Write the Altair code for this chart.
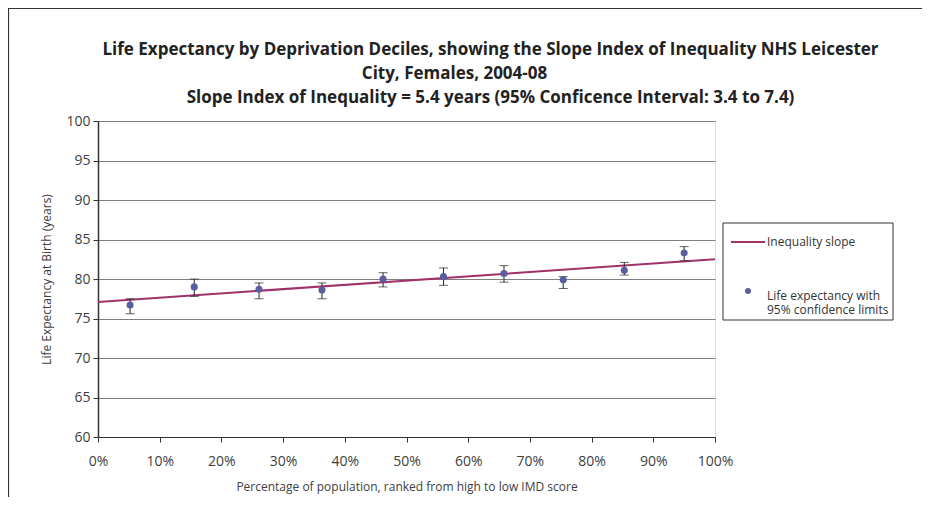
import altair as alt
import pandas as pd

# Data
pct = [5.2, 15.6, 26.1, 36.3, 46.2, 56.0, 65.8, 75.4, 85.3, 95.0]
life_exp = [76.7, 79.0, 78.7, 78.6, 80.0, 80.3, 80.7, 79.9, 81.1, 83.3]
lower = [75.6, 77.8, 77.5, 77.5, 79.0, 79.2, 79.6, 78.8, 80.5, 82.3]
upper = [77.5, 80.0, 79.5, 79.5, 80.8, 81.4, 81.7, 80.3, 82.1, 84.1]
slope_x = [0, 100]
slope_y = [77.1, 82.5]

LINE_LABEL = "Inequality slope"
PT_LABEL = "Life expectancy with 95% confidence limits"

FONT = "Open Sans"
LINE_COL = "#a0326a"
PT_COL = "#5b5e9e"

pts = pd.DataFrame({"x": pct, "y": life_exp, "lo": lower, "hi": upper,
                    "series": [PT_LABEL] * len(pct)})
slope = pd.DataFrame({"x": slope_x, "y": slope_y, "series": [LINE_LABEL] * 2})
one = pd.DataFrame({"a": [0]})

x_scale = alt.Scale(domain=[0, 100], nice=False, zero=False)
y_scale = alt.Scale(domain=[60, 100], nice=False, zero=False)

x_axis = alt.Axis(values=list(range(0, 101, 10)), labelExpr="datum.value + '%'",
                  title="Percentage of population, ranked from high to low IMD score",
                  grid=False, tickSize=5, labelPadding=12, titlePadding=13,
                  labelFontSize=14, titleFontSize=12, titleFontWeight="normal",
                  labelColor="#404040", titleColor="#404040", domainColor="#333333",
                  tickColor="#333333", labelFont=FONT, titleFont=FONT,
                  labelFlush=False, labelOverlap=False)
y_axis = alt.Axis(values=list(range(60, 101, 5)), title="Life Expectancy at Birth (years)",
                  grid=True, gridColor="#808080", gridWidth=1, tickSize=5,
                  labelPadding=3, titlePadding=12, labelFontSize=14, titleFontSize=12,
                  titleFontWeight="normal", labelColor="#404040", titleColor="#404040",
                  domainColor="#333333", domainWidth=1.5, tickColor="#333333",
                  labelFont=FONT, titleFont=FONT, labelOverlap=False)

X = lambda f: alt.X(f, scale=x_scale, axis=x_axis)
Y = lambda f: alt.Y(f, scale=y_scale, axis=y_axis)

frame = alt.Chart(one).mark_rect(fillOpacity=0, stroke="#333333", strokeWidth=1.2).encode(
    x=alt.value(-89.5), x2=alt.value(1200), y=alt.value(-112.5), y2=alt.value(1200))

legend_box = alt.Chart(one).mark_rect(fillOpacity=0, stroke="#333333", strokeWidth=1).encode(
    x=alt.value(625), x2=alt.value(795), y=alt.value(102), y2=alt.value(199))

line = alt.Chart(slope).mark_line(strokeWidth=2).encode(
    x=X("x:Q"),
    y=Y("y:Q"),
    stroke=alt.Stroke("series:N", scale=alt.Scale(domain=[LINE_LABEL], range=[LINE_COL]),
                      legend=alt.Legend(title=None, orient="none", legendX=632, legendY=103,
                                        symbolType="stroke", symbolSize=1156,
                                        symbolStrokeWidth=2, labelOffset=1, padding=0,
                                        labelFontSize=12, labelFont=FONT,
                                        labelColor="#333333")),
)

rules = alt.Chart(pts).mark_rule(color="#222222", strokeWidth=1).encode(
    x=X("x:Q"), y=Y("lo:Q"), y2="hi:Q")
cap_lo = alt.Chart(pts).mark_tick(color="#222222", thickness=1, size=9, orient="horizontal").encode(
    x=X("x:Q"), y=Y("lo:Q"))
cap_hi = alt.Chart(pts).mark_tick(color="#222222", thickness=1, size=9, orient="horizontal").encode(
    x=X("x:Q"), y=Y("hi:Q"))

points = alt.Chart(pts).mark_point(filled=True, size=50, opacity=1).encode(
    x=X("x:Q"), y=Y("y:Q"),
    fill=alt.Fill("series:N", scale=alt.Scale(domain=[PT_LABEL], range=[PT_COL]),
                  legend=alt.Legend(title=None, orient="none", legendX=644, legendY=164,
                                    symbolType="circle", symbolSize=36, labelOffset=13,
                                    padding=0, labelFontSize=12, labelFont=FONT,
                                    labelColor="#333333", labelLimit=300,
                                    labelBaseline="top",
                                    labelExpr="datum.label == '" + PT_LABEL + "' ? ['Life expectancy with', '95% confidence limits'] : datum.label")),
)

title_lines = [
    "Life Expectancy by Deprivation Deciles, showing the Slope Index of Inequality NHS Leicester",
    "City, Females, 2004-08" + "\u2800" * 6,
    "Slope Index of Inequality = 5.4 years (95% Conficence Interval: 3.4 to 7.4)",
]

chart = alt.layer(frame, legend_box, line, rules, cap_lo, cap_hi, points).properties(
    width=617, height=316,
    title=alt.TitleParams(text=title_lines, fontSize=17, fontWeight="bold", font=FONT,
                          color="#222222", anchor="middle", dx=84, dy=113, offset=14,
                          lineHeight=24, frame="group"),
    padding={"left": 90, "top": 113, "right": 207, "bottom": 60},
    autosize=alt.AutoSizeParams(type="none"),
).resolve_scale(stroke="independent", fill="independent").configure_view(
    stroke="#555555", strokeWidth=1
).configure(background="white")

chart.save("out.html", embed_options={"renderer": "svg", "actions": False})
